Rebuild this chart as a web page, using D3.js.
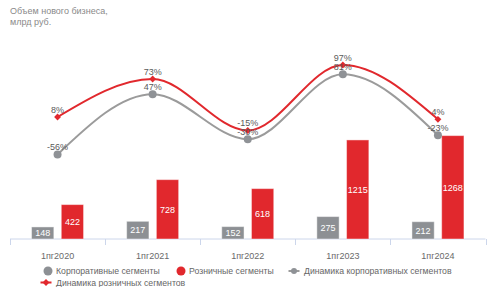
<!DOCTYPE html>
<html><head><meta charset="utf-8">
<script src="https://cdn.jsdelivr.net/npm/d3@7"></script>
<style>
html,body{margin:0;padding:0;background:#fff;}
svg{display:block;font-family:"Liberation Sans",Arial,sans-serif;}
</style></head>
<body>
<svg id="c" width="488" height="287"></svg>
<script>
const categories = ["1пг2020","1пг2021","1пг2022","1пг2023","1пг2024"];
const corporate = [148,217,152,275,212];
const retail = [422,728,618,1215,1268];
const corpDynamics = [-56,47,-30,81,-23];
const retailDynamics = [8,73,-15,97,4];
const seriesNames = ["Корпоративные сегменты","Розничные сегменты","Динамика корпоративных сегментов","Динамика розничных сегментов"];
const titleLines = ["Объем нового бизнеса,","млрд руб."];

const RED = "#e1282d", GRAY_BAR = "#8d9094", GRAY_LINE = "#9b9b9b", GRAY_MARK = "#8f9296";
const svg = d3.select("#c");

const x = d3.scaleBand().domain(categories).range([10, 485.5]).paddingInner(0).paddingOuter(0);
const x1 = d3.scaleBand().domain(["corp","retail"]).range([-26, 26]).paddingInner(0.25);
const y = d3.scaleLinear().domain([0, 1500]).range([239, 239 - 122.3]);
const y2 = d3.scaleLinear().domain([-100, 100]).range([121.7 + 58.5, 121.7 - 58.5]);
const cx = c => x(c) + x.bandwidth() / 2;

// title
svg.append("g").selectAll("text").data(titleLines).join("text")
  .attr("x", 10).attr("y", (d,i) => 14 + i * 11)
  .attr("font-size", 9).attr("fill", "#8a8a8a").text(d => d);

// axis
const ax = svg.append("g").attr("transform", "translate(0,239)");
ax.call(d3.axisBottom(x).tickSize(0).tickPadding(0));
ax.select(".domain").remove();
ax.selectAll(".tick text").attr("y", 14).attr("font-size", 9).attr("fill", "#6a6a6a")
  .attr("font-family", "Liberation Sans, Arial, sans-serif");
ax.append("line").attr("x1", x.range()[0]).attr("x2", x.range()[1]).attr("stroke", "#ccd6eb").attr("stroke-width", 1);
const tickPos = categories.map(c => x(c)).concat([x.range()[1]]);
ax.selectAll(".sep").data(tickPos).join("line").attr("class","sep")
  .attr("x1", d => Math.round(d) + 0.5).attr("x2", d => Math.round(d) + 0.5)
  .attr("y1", 0).attr("y2", 6).attr("stroke", "#ccd6eb");

// bars
const barData = [];
categories.forEach((c,i) => {
  barData.push({c, key:"corp", v: corporate[i]});
  barData.push({c, key:"retail", v: retail[i]});
});
const bars = svg.append("g");
bars.selectAll("rect").data(barData).join("rect")
  .attr("x", d => cx(d.c) + x1(d.key))
  .attr("width", x1.bandwidth())
  .attr("y", d => y(d.v))
  .attr("height", d => y(0) - y(d.v))
  .attr("fill", d => d.key === "corp" ? GRAY_BAR : RED)
  .attr("stroke", "rgba(255,255,255,0.45)").attr("stroke-width", 1);
bars.selectAll("text").data(barData).join("text")
  .attr("x", d => cx(d.c) + x1(d.key) + x1.bandwidth()/2)
  .attr("y", d => (y(d.v) + y(0))/2 + 3.2)
  .attr("text-anchor", "middle").attr("font-size", 9).attr("fill", "#fff")
  .text(d => d.v);

// lines
const line = d3.line().x(d => cx(d.c)).y(d => y2(d.v)).curve(d3.curveMonotoneX);
const corpPts = categories.map((c,i) => ({c, v: corpDynamics[i]}));
const retPts = categories.map((c,i) => ({c, v: retailDynamics[i]}));
svg.append("path").datum(corpPts).attr("d", line).attr("fill","none").attr("stroke", GRAY_LINE).attr("stroke-width", 2);
svg.append("path").datum(retPts).attr("d", line).attr("fill","none").attr("stroke", RED).attr("stroke-width", 2);
svg.append("g").selectAll("circle").data(corpPts).join("circle")
  .attr("cx", d => cx(d.c)).attr("cy", d => y2(d.v)).attr("r", 4).attr("fill", GRAY_MARK);
const diamond = d3.symbol().type(d3.symbolDiamond2).size(30);
svg.append("g").selectAll("path").data(retPts).join("path")
  .attr("transform", d => `translate(${cx(d.c)},${y2(d.v)})`).attr("d", diamond).attr("fill", RED);

// point labels
const lbl = svg.append("g").attr("font-size", 9).attr("fill", "#5a5a5a").attr("text-anchor", "middle");
lbl.selectAll(".lc").data(corpPts).join("text").attr("class","lc")
  .attr("x", d => cx(d.c)).attr("y", d => y2(d.v) - 4).text(d => d.v + "%");
lbl.selectAll(".lr").data(retPts).join("text").attr("class","lr")
  .attr("x", d => cx(d.c)).attr("y", d => y2(d.v) - 4).text(d => d.v + "%");

// legend
const leg = svg.append("g").attr("font-size", 8.7).attr("fill", "#666");
const items = [
  {name: seriesNames[0], type:"circle", color: GRAY_BAR, x: 48, y: 271},
  {name: seriesNames[1], type:"circle", color: RED, x: 181, y: 271},
  {name: seriesNames[2], type:"line", color: GRAY_LINE, mark: GRAY_MARK, x: 294, y: 271},
  {name: seriesNames[3], type:"line", color: RED, mark: RED, x: 46, y: 282.5}
];
items.forEach(it => {
  const g = leg.append("g").attr("transform", `translate(${it.x},${it.y})`);
  if (it.type === "circle") {
    g.append("circle").attr("r", 4.5).attr("fill", it.color);
    g.append("text").attr("x", 8).attr("y", 3.2).text(it.name);
  } else {
    g.append("line").attr("x1", -5.5).attr("x2", 5.5).attr("stroke", it.color).attr("stroke-width", 2);
    if (it.mark === RED) g.append("path").attr("d", diamond).attr("fill", RED);
    else g.append("circle").attr("r", 3).attr("fill", it.mark);
    g.append("text").attr("x", 10).attr("y", 3.2).text(it.name);
  }
});
</script>
</body></html>
